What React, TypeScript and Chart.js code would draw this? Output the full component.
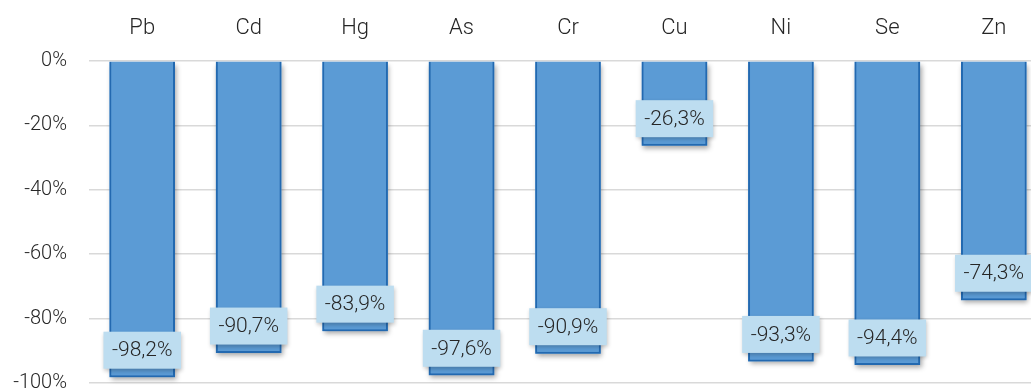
import React, { useEffect, useRef } from "react";
import { Chart, registerables } from "chart.js";

Chart.register(...registerables);

// Change in concentration per element
const elements: string[] = ["Pb", "Cd", "Hg", "As", "Cr", "Cu", "Ni", "Se", "Zn"];
const changePct: number[] = [-98.2, -90.7, -83.9, -97.6, -90.9, -26.3, -93.3, -94.4, -74.3];

const yMin = -100;
const yMax = 0;
const yStep = 20;

const FONT = "Roboto, 'Noto Sans', sans-serif";
const BAR_FILL = "#5B9BD5";
const BAR_EDGE = "#2369B0";
const LABEL_BG = "#BDDDF0";
const TEXT = "#262626";

const fmt = (v: number) => v.toFixed(1).replace(".", ",") + "%";

// soft drop shadow painted underneath each bar
const barShadow = {
  id: "barShadow",
  beforeDatasetsDraw(chart: any) {
    const ctx = chart.ctx;
    const meta = chart.getDatasetMeta(0);
    ctx.save();
    ctx.shadowColor = "rgba(0,0,0,0.35)";
    ctx.shadowBlur = 5;
    ctx.shadowOffsetX = 1.5;
    ctx.shadowOffsetY = 3;
    ctx.fillStyle = BAR_FILL;
    meta.data.forEach((bar: any) => {
      const { x, y, base, width } = bar.getProps(["x", "y", "base", "width"], true);
      ctx.fillRect(x - width / 2, Math.min(y, base), width, Math.abs(base - y));
    });
    ctx.restore();
  },
};

// value tags sitting just inside the end of each bar
const valueTags = {
  id: "valueTags",
  afterDatasetsDraw(chart: any) {
    const ctx = chart.ctx;
    const meta = chart.getDatasetMeta(0);
    const values = chart.data.datasets[0].data as number[];
    ctx.save();
    ctx.font = `300 21px ${FONT}`;
    ctx.textAlign = "center";
    ctx.textBaseline = "middle";
    meta.data.forEach((bar: any, i: number) => {
      const { x, y } = bar.getProps(["x", "y"], true);
      const text = fmt(values[i]);
      const w = ctx.measureText(text).width + 17;
      const h = 37;
      const cy = y - 27;
      ctx.save();
      ctx.shadowColor = "rgba(0,0,0,0.22)";
      ctx.shadowBlur = 4;
      ctx.shadowOffsetX = 1;
      ctx.shadowOffsetY = 2;
      ctx.fillStyle = LABEL_BG;
      ctx.fillRect(x - w / 2, cy - h / 2, w, h);
      ctx.restore();
      ctx.fillStyle = TEXT;
      ctx.fillText(text, x, cy + 1);
    });
    ctx.restore();
  },
};

export default function App() {
  const ref = useRef<HTMLCanvasElement | null>(null);

  useEffect(() => {
    if (!ref.current) return;
    const chart = new Chart(ref.current, {
      type: "bar",
      data: {
        labels: elements,
        datasets: [
          {
            data: changePct,
            backgroundColor: BAR_FILL,
            borderColor: BAR_EDGE,
            borderWidth: 2,
            categoryPercentage: 1,
            barPercentage: 0.616,
          },
        ],
      },
      options: {
        responsive: false,
        animation: false,
        devicePixelRatio: 1,
        layout: { padding: 0 },
        plugins: {
          legend: { display: false },
          tooltip: { enabled: false },
        },
        scales: {
          x: {
            position: "top",
            grid: { display: false },
            border: { display: false },
            ticks: {
              color: TEXT,
              font: { family: FONT, size: 22, weight: "300" },
              padding: 11,
            },
            afterFit(scale: any) {
              scale.height = 61;
            },
          },
          y: {
            min: yMin,
            max: yMax,
            grid: { color: "#D9D9D9", lineWidth: 1.5, drawTicks: false },
            border: { display: false },
            ticks: {
              stepSize: yStep,
              color: TEXT,
              font: { family: FONT, size: 20, weight: "300" },
              padding: 22,
              callback: (v: any) => `${v}%`,
            },
            afterFit(scale: any) {
              scale.width = 89;
            },
          },
        },
      },
      plugins: [barShadow, valueTags],
    });
    return () => chart.destroy();
  }, []);

  return (
    <div
      style={{
        position: "absolute",
        left: 0,
        top: 0,
        width: 1031,
        height: 390,
        overflow: "hidden",
        background: "#fff",
      }}
    >
      <canvas ref={ref} width={1047} height={417} style={{ display: "block" }} />
    </div>
  );
}
